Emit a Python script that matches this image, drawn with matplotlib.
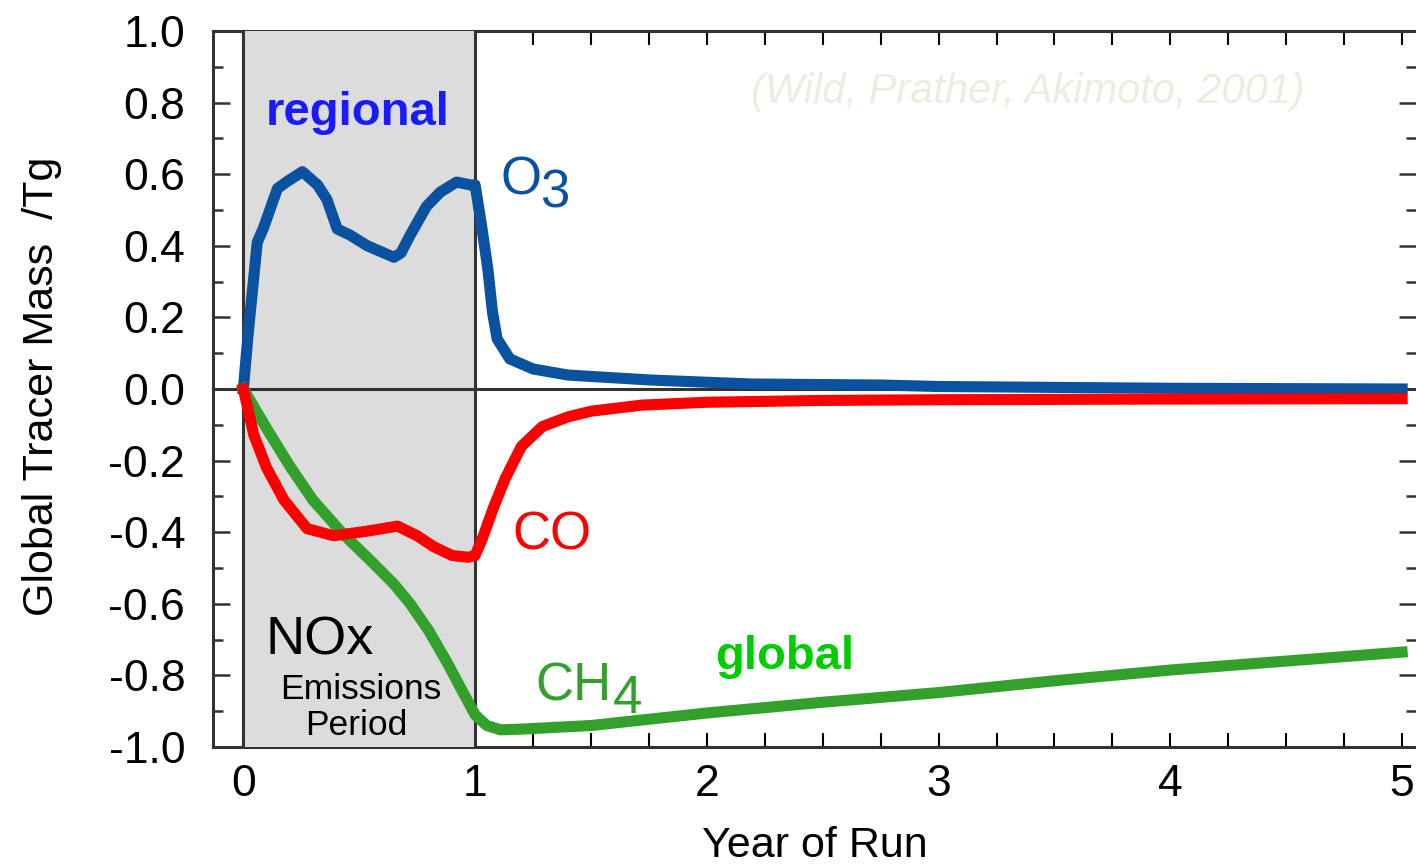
import numpy as np
import matplotlib
matplotlib.use("Agg")
import matplotlib.pyplot as plt
from matplotlib.ticker import MultipleLocator, FuncFormatter

plt.rcParams['font.family'] = ['Liberation Sans', 'DejaVu Sans']
plt.rcParams['axes.unicode_minus'] = False

# --- data (year of run, Tg) ---
o3_year = [0, 0.02, 0.06, 0.087, 0.147, 0.19, 0.255, 0.32, 0.36, 0.405, 0.46, 0.535,
           0.65, 0.68, 0.72, 0.79, 0.85, 0.92, 0.98, 1.0, 1.03, 1.055, 1.075, 1.095,
           1.15, 1.25, 1.40, 1.76, 2.19, 2.76, 3.0, 4.0, 5.0]
o3_mass = [0, 0.15, 0.41, 0.45, 0.56, 0.58, 0.607, 0.57, 0.53, 0.447, 0.43, 0.40,
           0.368, 0.38, 0.43, 0.51, 0.55, 0.578, 0.57, 0.57, 0.447, 0.335, 0.215, 0.14,
           0.084, 0.056, 0.039, 0.025, 0.014, 0.011, 0.007, 0.002, 0.0]

co_year = [0, 0.045, 0.10, 0.175, 0.275, 0.39, 0.535, 0.665, 0.75, 0.82, 0.9, 0.97,
           1.0, 1.03, 1.08, 1.13, 1.2, 1.29, 1.4, 1.5, 1.72, 2.0, 2.5, 3.0, 4.0, 5.0]
co_mass = [0, -0.128, -0.22, -0.31, -0.39, -0.41, -0.397, -0.383, -0.41, -0.44, -0.465, -0.47,
           -0.465, -0.42, -0.33, -0.25, -0.16, -0.105, -0.078, -0.062, -0.045, -0.037,
           -0.032, -0.03, -0.028, -0.027]

ch4_year = [0, 0.1, 0.2, 0.3, 0.43, 0.55, 0.65, 0.72, 0.8, 0.88, 0.95, 1.0, 1.05,
            1.11, 1.2, 1.5, 2.0, 2.5, 3.0, 3.5, 4.0, 4.5, 5.0]
ch4_mass = [0, -0.11, -0.215, -0.31, -0.405, -0.48, -0.545, -0.6, -0.675, -0.765, -0.85,
            -0.91, -0.94, -0.952, -0.95, -0.94, -0.905, -0.875, -0.848, -0.815, -0.785,
            -0.76, -0.735]

emission_period = (0, 1)
y_ticks = np.round(np.arange(-1.0, 1.01, 0.2), 1)
x_ticks = [0, 1, 2, 3, 4, 5]

blue = '#0a52a0'
red = '#ff0000'
green = '#33a02c'
dark = '#333333'

fig = plt.figure(figsize=(14.16, 8.64), dpi=100)
ax = fig.add_axes([213/1416, 1 - 747/864, 1 - 213/1416, 716/864])

ax.set_xlim(-0.131, 5.06)
ax.set_ylim(-1.0, 1.0)

# shaded emissions period (covers ticks inside it)
ax.axvspan(*emission_period, color='#dcdcdc', zorder=2.6, lw=0)
for xv in emission_period:
    ax.axvline(xv, color=dark, lw=2.2, zorder=2.7)
ax.axhline(0, color=dark, lw=2.2, zorder=2.7)

ax.plot(o3_year, o3_mass, color=blue, lw=8, zorder=3, solid_joinstyle='round')
ax.plot(ch4_year, ch4_mass, color=green, lw=8, zorder=3.1, solid_joinstyle='round')
ax.plot(co_year, co_mass, color=red, lw=8, zorder=3.2, solid_joinstyle='round')

# axes styling
for side in ['left', 'bottom', 'top']:
    ax.spines[side].set_color(dark)
    ax.spines[side].set_linewidth(2.2)
ax.spines['right'].set_visible(False)

ax.set_yticks(y_ticks)
ax.yaxis.set_major_formatter(FuncFormatter(lambda v, pos: f'{v + 0.0:.1f}' if abs(v) > 1e-9 else '0.0'))
ax.yaxis.set_minor_locator(MultipleLocator(0.1))
ax.set_xticks(x_ticks)
ax.xaxis.set_minor_locator(MultipleLocator(0.25))

ax.tick_params(axis='y', which='both', direction='in', left=True, right=True,
               color=dark, width=1.8, labelsize=32, pad=20)
ax.tick_params(axis='y', which='major', length=12)
ax.tick_params(axis='y', which='minor', length=7)
ax.tick_params(axis='x', which='both', direction='in', top=True, bottom=True,
               color='black', width=1.5, length=10, labelsize=32, pad=12)

# annotations
ax.text(0.495, 0.737, 'regional', color='#1a1aff', fontsize=34, fontweight='bold',
        ha='center', va='baseline', zorder=4)
ax.text(1.108, 0.542, 'O', color=blue, fontsize=38, ha='left', va='baseline', zorder=4)
ax.text(1.28, 0.508, '3', color=blue, fontsize=38, ha='left', va='baseline', zorder=4)
ax.text(1.16, -0.447, 'CO', color=red, fontsize=38, ha='left', va='baseline', zorder=4)
ax.text(1.26, -0.869, 'CH', color=green, fontsize=38, ha='left', va='baseline', zorder=4)
ax.text(1.596, -0.905, '4', color=green, fontsize=38, ha='left', va='baseline', zorder=4)
ax.text(2.036, -0.782, 'global', color='#00cc00', fontsize=34, fontweight='bold',
        ha='left', va='baseline', zorder=4)
ax.text(0.094, -0.743, 'NOx', color='black', fontsize=39, ha='left', va='baseline', zorder=4)
ax.text(0.158, -0.866, 'Emissions', color='black', fontsize=25.5, ha='left',
        va='baseline', zorder=4)
ax.text(0.266, -0.966, 'Period', color='black', fontsize=25.5, ha='left',
        va='baseline', zorder=4)
ax.text(2.19, 0.80, '(Wild, Prather, Akimoto, 2001)', color='#eeebdf', fontsize=30,
        style='italic', ha='left', va='baseline', zorder=4)

fig.text(42/1416, 1 - 386/864, 'Global Tracer Mass  /Tg', rotation=90, fontsize=31,
         ha='center', va='center')
fig.text(815/1416, 1 - 857/864, 'Year of Run', fontsize=31, ha='center', va='baseline')

fig.savefig('out.png', dpi=100)
